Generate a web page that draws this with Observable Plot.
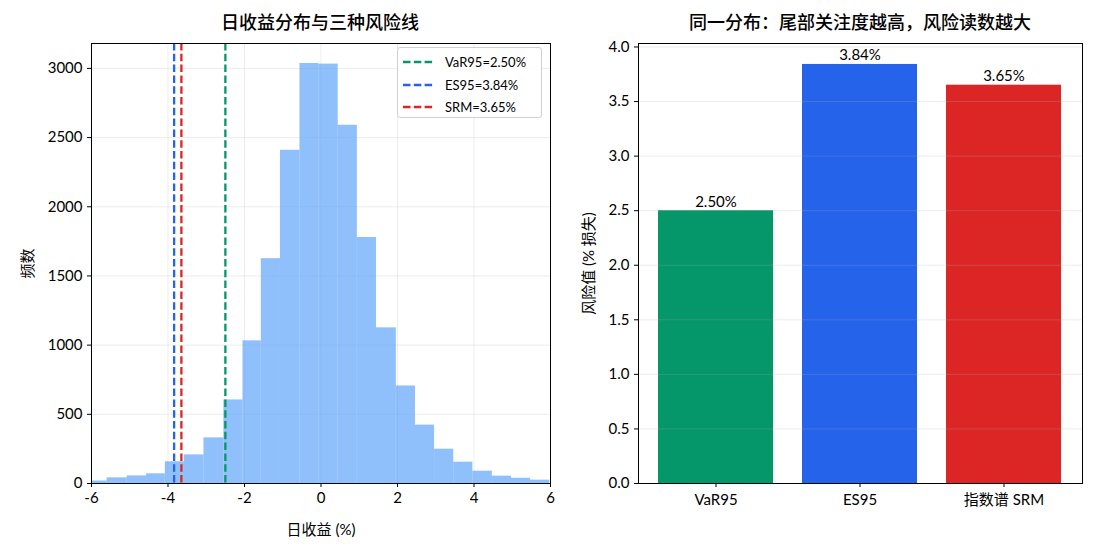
<!DOCTYPE html>
<html>
<head>
<meta charset="utf-8">
<script src="https://cdn.jsdelivr.net/npm/d3@7"></script>
<script src="https://cdn.jsdelivr.net/npm/@observablehq/plot@0.6"></script>
<style>
  html, body { margin: 0; padding: 0; background: #fff; }
  #root { position: relative; width: 1111px; height: 552px; overflow: hidden;
          font-family: Lato, "Noto Sans CJK SC", sans-serif; color: #000; }
  .panel { position: absolute; top: 0; }
  .title { position: absolute; top: 8px; font-size: 18px; font-weight: 500;
           transform: translateX(-50%); white-space: nowrap; }
  .legend { position: absolute; left: 397px; top: 47px; width: 145px; height: 71px;
            box-sizing: border-box; border: 1px solid #d0d0d0; border-radius: 3px;
            background: rgba(255,255,255,0.85); font-size: 13px; }
  .legend .row { position: absolute; left: 5px; height: 20px; display: flex; align-items: center; }
  .legend svg { margin-right: 12px; }
</style>
</head>
<body>
<div id="root"></div>
<script>
// Histogram of daily returns: bin edges (%) and counts per bin
const binEdges = [-6.09, -5.59, -5.07, -4.56, -4.07, -3.57, -3.06, -2.54, -2.04, -1.56, -1.06, -0.55,
                  -0.06, 0.45, 0.95, 1.45, 1.97, 2.47, 2.97, 3.47, 3.97, 4.48, 4.98, 5.48, 5.98];
const binCounts = [18, 41, 55, 70, 157, 207, 330, 604, 1031, 1625, 2408, 3036,
                   3031, 2589, 1778, 1125, 705, 422, 248, 154, 89, 53, 38, 24];

// Risk measures (% loss)
const measureNames = ["VaR95", "ES95", "指数谱 SRM"];
const measureKeys = ["VaR95", "ES95", "SRM"];
const measureValues = [2.50, 3.84, 3.65];
const measureColors = ["#059669", "#2563eb", "#dc2626"];

const histTicksX = [-6, -4, -2, 0, 2, 4, 6];
const histTicksY = [0, 500, 1000, 1500, 2000, 2500, 3000];
const barTicksY = [0, 0.5, 1, 1.5, 2, 2.5, 3, 3.5, 4];

const FONT = 'Lato, "Noto Sans CJK SC", sans-serif';
const root = document.getElementById("root");

const bins = binCounts.map((c, i) => ({x1: binEdges[i], x2: binEdges[i + 1], count: c}));
const riskLines = measureKeys.map((k, i) => ({key: k, x: -measureValues[i], color: measureColors[i]}));
const bars = measureNames.map((n, i) => ({name: n, value: measureValues[i], color: measureColors[i]}));

// ---- Left panel: return distribution with risk lines ----
const left = Plot.plot({
  width: 560, height: 552,
  marginLeft: 91, marginRight: 10, marginTop: 43, marginBottom: 69,
  style: {fontFamily: FONT, fontSize: "15px", background: "transparent", color: "#000"},
  x: {domain: [-6, 6]},
  y: {domain: [0, 3180]},
  marks: [
    Plot.gridX(histTicksX, {stroke: "#b0b0b0", strokeOpacity: 0.3, strokeWidth: 0.8}),
    Plot.gridY(histTicksY, {stroke: "#b0b0b0", strokeOpacity: 0.3, strokeWidth: 0.8}),
    Plot.rectY(bins, {x1: "x1", x2: "x2", y: "count", fill: "#60a5fa", fillOpacity: 0.7, clip: true}),
    Plot.ruleX(riskLines, {x: "x", stroke: "color", strokeWidth: 2.3, strokeDasharray: "7.5,3.3"}),
    Plot.frame({stroke: "#000", strokeWidth: 1}),
    Plot.axisX(histTicksX, {tickSize: 4, tickPadding: 5, fontSize: 15,
      tickFormat: d => String(d), label: "日收益 (%)", labelAnchor: "center", labelArrow: "none", labelOffset: 51}),
    Plot.axisY(histTicksY, {tickSize: 4, tickPadding: 5, fontSize: 15, tickFormat: d => String(d),
      label: "频数", labelAnchor: "center", labelArrow: "none", labelOffset: 69})
  ]
});
left.classList.add("panel");
left.style.left = "0px";
root.appendChild(left);

// ---- Right panel: risk readings as bars ----
const right = Plot.plot({
  width: 551, height: 552,
  marginLeft: 78, marginRight: 29, marginTop: 43, marginBottom: 69,
  style: {fontFamily: FONT, fontSize: "15px", background: "transparent", color: "#000"},
  x: {domain: measureNames, paddingInner: 0.2, paddingOuter: 0.14},
  y: {domain: [0, 4.032]},
  marks: [
    Plot.barY(bars, {x: "name", y: "value", fill: "color"}),
    Plot.gridY(barTicksY.slice(1), {stroke: "#b0b0b0", strokeOpacity: 0.3, strokeWidth: 0.8}),
    Plot.text(bars, {x: "name", y: "value", text: d => d.value.toFixed(2) + "%", lineAnchor: "bottom",
      dy: -4, fontSize: 15, fill: "#000"}),
    Plot.frame({stroke: "#000", strokeWidth: 1}),
    Plot.axisX({tickSize: 4, tickPadding: 7, fontSize: 15, label: null}),
    Plot.axisY(barTicksY, {tickSize: 4, tickPadding: 5, fontSize: 15, tickFormat: d => d.toFixed(1),
      label: "风险值 (% 损失)", labelAnchor: "center", labelArrow: "none", labelOffset: 55})
  ]
});
right.classList.add("panel");
right.style.left = "560px";
root.appendChild(right);

// ---- Titles ----
function addTitle(text, cx) {
  const t = document.createElement("div");
  t.className = "title";
  t.style.left = cx + "px";
  t.textContent = text;
  root.appendChild(t);
}
addTitle("日收益分布与三种风险线", 320);
addTitle("同一分布：尾部关注度越高，风险读数越大", 860);

// ---- Legend for the risk lines ----
const legend = document.createElement("div");
legend.className = "legend";
riskLines.forEach((d, i) => {
  const row = document.createElement("div");
  row.className = "row";
  row.style.top = (4 + i * 22.7) + "px";
  row.innerHTML = `<svg width="30" height="6"><line x1="0" y1="3" x2="30" y2="3" stroke="${d.color}"
    stroke-width="2.3" stroke-dasharray="7.5,3.3"/></svg><span>${d.key}=${measureValues[i].toFixed(2)}%</span>`;
  legend.appendChild(row);
});
root.appendChild(legend);
</script>
</body>
</html>
